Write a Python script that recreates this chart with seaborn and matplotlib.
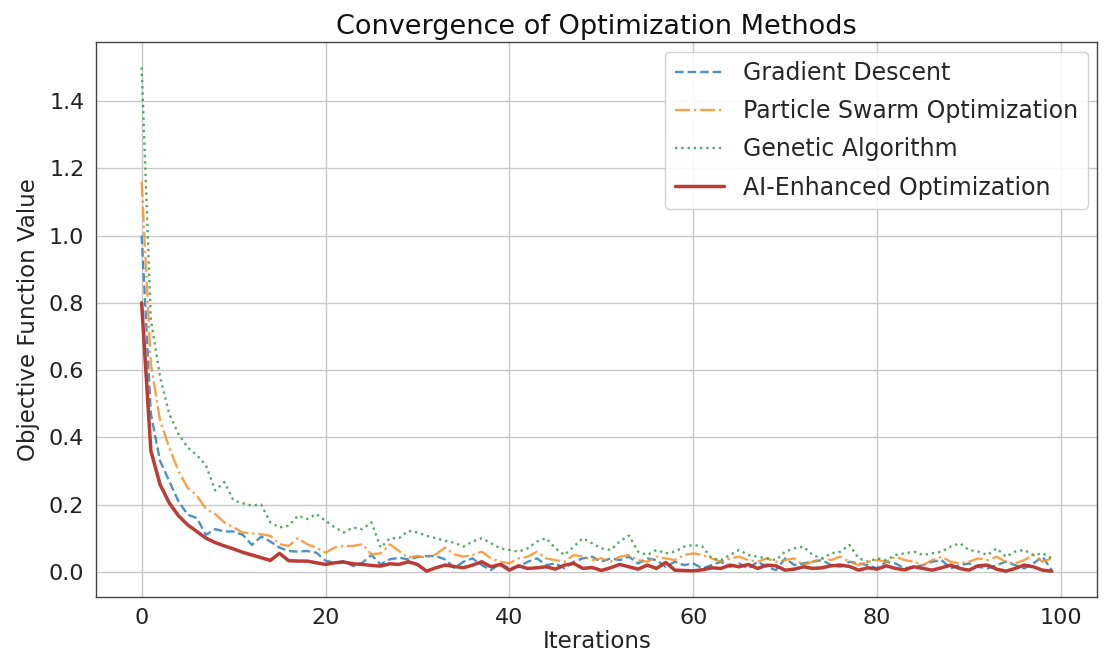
import numpy as np
import pandas as pd
import matplotlib
matplotlib.use("Agg")
import matplotlib.pyplot as plt
import seaborn as sns

iterations = list(range(100))

gradient_descent = [
    1.00, 0.47, 0.33, 0.27, 0.21, 0.17, 0.16, 0.11, 0.127, 0.12,
    0.12, 0.11, 0.08, 0.105, 0.09, 0.072, 0.062, 0.06, 0.062, 0.057,
    0.033, 0.027, 0.032, 0.017, 0.027, 0.05, 0.022, 0.037, 0.042, 0.037,
    0.044, 0.047, 0.047, 0.037, 0.012, 0.03, 0.04, 0.02, 0.005, 0.025,
    0.01, 0.015, 0.03, 0.04, 0.02, 0.025, 0.01, 0.03, 0.04, 0.045,
    0.03, 0.04, 0.035, 0.045, 0.025, 0.04, 0.035, 0.015, 0.03, 0.02,
    0.025, 0.01, 0.02, 0.03, 0.015, 0.025, 0.01, 0.03, 0.015, 0.005,
    0.04, 0.02, 0.025, 0.03, 0.035, 0.02, 0.015, 0.03, 0.025, 0.02,
    0.01, 0.03, 0.025, 0.01, 0.015, 0.02, 0.03, 0.035, 0.01, 0.02,
    0.025, 0.015, 0.01, 0.02, 0.03, 0.02, 0.01, 0.025, 0.045, 0.005,
]

particle_swarm = [
    1.16, 0.62, 0.45, 0.37, 0.30, 0.25, 0.227, 0.187, 0.172, 0.147,
    0.132, 0.117, 0.114, 0.112, 0.107, 0.082, 0.077, 0.10, 0.082, 0.072,
    0.057, 0.072, 0.077, 0.077, 0.082, 0.052, 0.055, 0.082, 0.062, 0.042,
    0.047, 0.042, 0.052, 0.072, 0.052, 0.045, 0.05, 0.06, 0.04, 0.03,
    0.025, 0.04, 0.045, 0.06, 0.04, 0.035, 0.03, 0.05, 0.045, 0.035,
    0.04, 0.03, 0.045, 0.05, 0.035, 0.03, 0.045, 0.04, 0.035, 0.05,
    0.055, 0.05, 0.04, 0.03, 0.04, 0.045, 0.035, 0.03, 0.04, 0.03,
    0.035, 0.04, 0.02, 0.03, 0.04, 0.035, 0.045, 0.03, 0.02, 0.03,
    0.035, 0.03, 0.045, 0.035, 0.03, 0.02, 0.035, 0.045, 0.03, 0.025,
    0.03, 0.04, 0.035, 0.045, 0.03, 0.025, 0.035, 0.05, 0.03, 0.04,
]

genetic_algorithm = [
    1.50, 0.75, 0.58, 0.47, 0.41, 0.37, 0.347, 0.317, 0.242, 0.267,
    0.212, 0.204, 0.197, 0.20, 0.147, 0.132, 0.137, 0.167, 0.157, 0.172,
    0.152, 0.132, 0.117, 0.132, 0.127, 0.147, 0.072, 0.10, 0.10, 0.122,
    0.117, 0.107, 0.10, 0.092, 0.087, 0.075, 0.09, 0.10, 0.085, 0.07,
    0.065, 0.06, 0.07, 0.09, 0.10, 0.07, 0.05, 0.075, 0.10, 0.085,
    0.07, 0.065, 0.09, 0.108, 0.06, 0.05, 0.065, 0.055, 0.06, 0.075,
    0.08, 0.075, 0.04, 0.035, 0.05, 0.065, 0.05, 0.045, 0.04, 0.035,
    0.06, 0.07, 0.075, 0.05, 0.04, 0.055, 0.06, 0.08, 0.04, 0.03,
    0.04, 0.035, 0.05, 0.055, 0.06, 0.05, 0.055, 0.06, 0.075, 0.085,
    0.065, 0.06, 0.05, 0.07, 0.045, 0.06, 0.065, 0.05, 0.055, 0.04,
]

ai_enhanced = [
    0.80, 0.36, 0.26, 0.205, 0.167, 0.14, 0.12, 0.10, 0.087, 0.077,
    0.068, 0.058, 0.05, 0.042, 0.034, 0.055, 0.033, 0.032, 0.032, 0.027,
    0.022, 0.027, 0.029, 0.024, 0.022, 0.019, 0.017, 0.024, 0.022, 0.03,
    0.022, 0.002, 0.012, 0.02, 0.016, 0.012, 0.02, 0.03, 0.015, 0.022,
    0.005, 0.018, 0.01, 0.012, 0.015, 0.008, 0.02, 0.025, 0.01, 0.013,
    0.004, 0.012, 0.022, 0.015, 0.008, 0.02, 0.01, 0.028, 0.005, 0.004,
    0.003, 0.006, 0.012, 0.01, 0.02, 0.015, 0.022, 0.01, 0.02, 0.018,
    0.005, 0.008, 0.015, 0.01, 0.012, 0.018, 0.02, 0.016, 0.005, 0.012,
    0.008, 0.018, 0.01, 0.006, 0.015, 0.01, 0.005, 0.012, 0.02, 0.01,
    0.005, 0.018, 0.02, 0.008, 0.002, 0.01, 0.02, 0.015, 0.005, 0.002,
]

series_names = ["Gradient Descent", "Particle Swarm Optimization",
                "Genetic Algorithm", "AI-Enhanced Optimization"]

sns.set_theme(style="whitegrid")
plt.rcParams['font.family'] = ['DejaVu Sans']

fig, ax = plt.subplots(figsize=(11.05, 6.59), dpi=100)
fig.subplots_adjust(left=0.087, right=0.993, top=0.936, bottom=0.094)

styles = [
    dict(color="#2f7fb8", linestyle="--", linewidth=1.7, alpha=0.85),
    dict(color="#f5922a", linestyle="-.", linewidth=1.7, alpha=0.85),
    dict(color="#3a9a4a", linestyle=":", linewidth=1.7, alpha=0.85),
    dict(color="#b8312a", linestyle="-", linewidth=2.5, alpha=0.95),
]
all_values = [gradient_descent, particle_swarm, genetic_algorithm, ai_enhanced]

for name, vals, st in zip(series_names, all_values, styles):
    df = pd.DataFrame({"Iterations": iterations, "Objective Function Value": vals})
    sns.lineplot(data=df, x="Iterations", y="Objective Function Value", ax=ax,
                 label=name, **st)

ax.set_title("Convergence of Optimization Methods", fontsize=19.5, color="#111111", pad=6)
ax.set_xlabel("Iterations", fontsize=16.5, color="#222222", labelpad=1)
ax.set_ylabel("Objective Function Value", fontsize=16.5, color="#222222", labelpad=6)
ax.tick_params(axis="both", labelsize=16, colors="#222222", length=5, color="#333333")
ax.tick_params(axis="x", pad=3)
ax.set_xticks([0, 20, 40, 60, 80, 100])
ax.set_yticks([0.0, 0.2, 0.4, 0.6, 0.8, 1.0, 1.2, 1.4])
ax.set_xlim(-4.95, 103.95)
ax.set_ylim(-0.075, 1.575)
ax.grid(True, color="#c8c8c8", linewidth=1.0)
for sp in ax.spines.values():
    sp.set_color("#444444")
    sp.set_linewidth(1.0)

leg = ax.legend(loc="upper right", fontsize=17, frameon=True, framealpha=0.9,
                edgecolor="#cccccc", handlelength=2.1, borderaxespad=0.4,
                labelspacing=0.6)

fig.savefig("out.png", dpi=100)
